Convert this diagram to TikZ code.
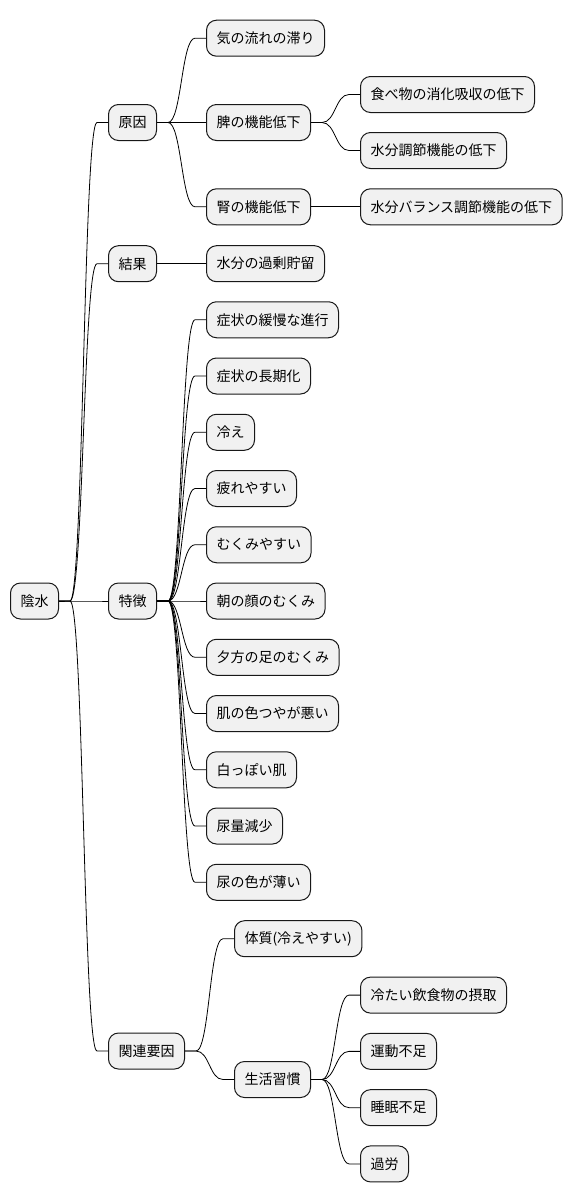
\documentclass[tikz,border=0pt]{standalone}
\usepackage{fontspec}
\setmainfont{Noto Sans CJK JP}
\usetikzlibrary{positioning,calc}
\definecolor{boxfill}{HTML}{F1F1F1}
\definecolor{boxline}{HTML}{181818}
% branch from parent to child: short stub, s-curve, short stub
\newcommand{\branch}[2]{%
  \draw[link] let \p1=(#1.east), \p2=(#2.west) in
    (\p1) -- ++(11pt,0) .. controls ({(\x1+\x2)/2},\y1) and ({(\x1+\x2)/2},\y2) .. (\x2-11pt,\y2) -- (\p2);}

\begin{document}
\begin{tikzpicture}[
  font=\fontsize{14pt}{16pt}\selectfont,
  node distance=49pt,
  topic/.style={draw=boxline, fill=boxfill, line width=1pt, rounded corners=10pt, inner xsep=10pt, inner ysep=0pt, minimum height=36pt},
  link/.style={draw=black, line width=0.8pt},
]
\useasboundingbox (0,0) rectangle (572pt,-1203pt);

% Root
\node[topic, anchor=west] (root) at (10pt,-601pt) {陰水};

% First level
\node[topic, right=of root, yshift=478.5pt] (cause) {原因};
\node[topic, right=of root, yshift=337.3pt] (result) {結果};
\node[topic, right=of root] (feat) {特徴};
\node[topic, right=of root, yshift=-450pt] (factor) {関連要因};

% Causes
\node[topic, right=of cause, yshift=84.3pt] (qi) {気の流れの滞り};
\node[topic, right=of cause] (spleen) {脾の機能低下};
\node[topic, right=of cause, yshift=-84.3pt] (kidney) {腎の機能低下};
\node[topic, right=of spleen, yshift=28pt] (digest) {食べ物の消化吸収の低下};
\node[topic, right=of spleen, yshift=-28pt] (regul) {水分調節機能の低下};
\node[topic, right=of kidney] (balance) {水分バランス調節機能の低下};

% Result
\node[topic, right=of result] (excess) {水分の過剰貯留};

% Related factors
\node[topic, right=of factor, yshift=112.3pt] (constit) {体質(冷えやすい)};
\node[topic, right=of factor, yshift=-28.5pt] (habit) {生活習慣};
\node[topic, right=of habit, yshift=84.4pt] (cold) {冷たい飲食物の摂取};
\node[topic, right=of habit, yshift=28.15pt] (exer) {運動不足};
\node[topic, right=of habit, yshift=-28.15pt] (sleep) {睡眠不足};
\node[topic, right=of habit, yshift=-84.4pt] (overwork) {過労};

% Connectors
\branch{root}{cause}
\branch{root}{result}
\branch{root}{feat}
\branch{root}{factor}
\branch{cause}{qi}
\branch{cause}{spleen}
\branch{cause}{kidney}
\branch{spleen}{digest}
\branch{spleen}{regul}
\branch{kidney}{balance}
\branch{result}{excess}
\branch{factor}{constit}
\branch{factor}{habit}
\branch{habit}{cold}
\branch{habit}{exer}
\branch{habit}{sleep}
\branch{habit}{overwork}

% Features
\foreach \t [count=\k from 0] in {症状の緩慢な進行,症状の長期化,冷え,疲れやすい,むくみやすい,朝の顔のむくみ,夕方の足のむくみ,肌の色つやが悪い,白っぽい肌,尿量減少,尿の色が薄い}{
  \node[topic, right=of feat, yshift={(5-\k)*56.25pt}] (f\k) {\t};
  \branch{feat}{f\k}
}
\end{tikzpicture}
\end{document}
